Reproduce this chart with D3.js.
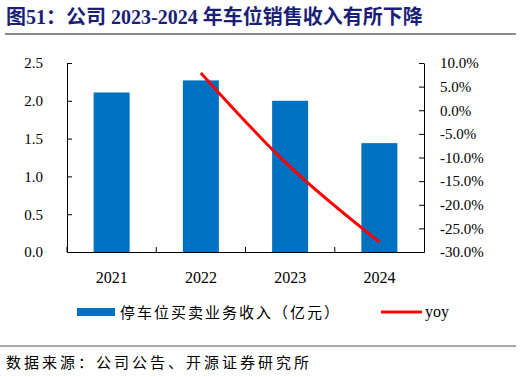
<!DOCTYPE html>
<html>
<head>
<meta charset="utf-8">
<script src="https://cdn.jsdelivr.net/npm/d3@7"></script>
<style>
  body { margin: 0; background: #fff; }
  svg text { font-family: "Liberation Serif", "Noto Sans CJK SC", serif; }
</style>
</head>
<body>
<div id="Canvas"></div>
<script>
// 数据
let years = ["2021", "2022", "2023", "2024"]
let revenue = [2.11, 2.27, 2.00, 1.44]      // 停车位买卖业务收入（亿元）
let yoy = [null, 7.9, -12.0, -27.9]         // %
let leftTicks = [0, 0.5, 1.0, 1.5, 2.0, 2.5]
let rightTicks = [10, 5, 0, -5, -10, -15, -20, -25, -30]

let svg = d3.select("#Canvas")
    .append("svg")
    .attr("width", 522)
    .attr("height", 377)

// 标题
svg.append("text")
    .attr("x", 6)
    .attr("y", 24)
    .attr("fill", "#1b1f78")
    .attr("font-size", 20)
    .attr("font-weight", "bold")
    .style("font-family", "'Liberation Serif', 'Noto Sans CJK SC', serif")
    .text("图51：公司 2023-2024 年车位销售收入有所下降")
svg.append("line")
    .attr("x1", 5).attr("x2", 516)
    .attr("y1", 34).attr("y2", 34)
    .attr("stroke", "#8c8c8c")
    .attr("stroke-width", 2)

// 比例尺
let xBand = d3.scaleBand().domain(years).range([67, 424])
let yScale = d3.scaleLinear()
    .domain([0, 2.5])
    .range([252, 63])
let yoyScale = d3.scaleLinear()
    .domain([-30, 10])
    .range([252, 63])

// 柱
svg.selectAll("rect.bar")
    .data(years)
    .enter()
    .append("rect")
    .attr("class", "bar")
    .attr("x", (d) => xBand(d) + xBand.bandwidth() / 2 - 18)
    .attr("y", (d, i) => yScale(revenue[i]))
    .attr("width", 36)
    .attr("height", (d, i) => yScale(0) - yScale(revenue[i]))
    .attr("fill", "#0070c0")

// 折线
let lineData = years.map((d, i) => ({ year: d, v: yoy[i] })).filter(d => d.v !== null)
let line = d3.line()
    .x(d => xBand(d.year) + xBand.bandwidth() / 2)
    .y(d => yoyScale(d.v))
    .curve(d3.curveCatmullRom.alpha(0.5))
svg.append("path")
    .datum(lineData)
    .attr("d", line)
    .attr("fill", "none")
    .attr("stroke", "#ff0000")
    .attr("stroke-width", 3)

// 坐标轴
let yAxis = d3.axisLeft(yScale)
    .tickValues(leftTicks)
    .tickFormat(d3.format(".1f"))
    .tickSizeInner(-5)
    .tickSizeOuter(0)
    .tickPadding(24)
let gy = svg.append("g")
    .attr("transform", "translate(67,0)")
    .call(yAxis)

let yAxis2 = d3.axisRight(yoyScale)
    .tickValues(rightTicks)
    .tickFormat(d => d.toFixed(1) + "%")
    .tickSizeInner(-5)
    .tickSizeOuter(0)
    .tickPadding(16)
let gy2 = svg.append("g")
    .attr("transform", "translate(424,0)")
    .call(yAxis2)

let xAxis = d3.axisBottom(xBand)
    .tickSize(0)
    .tickPadding(20)
let gx = svg.append("g")
    .attr("transform", "translate(0,252)")
    .call(xAxis)
// x轴分隔刻度
svg.selectAll("line.sep")
    .data(years)
    .enter()
    .append("line")
    .attr("class", "sep")
    .attr("x1", d => xBand(d)).attr("x2", d => xBand(d))
    .attr("y1", 252).attr("y2", 247)
    .attr("stroke", "#000")

;[gy, gy2, gx].forEach(g => {
    g.select(".domain").attr("stroke", "#000")
    g.selectAll(".tick line").attr("stroke", "#000")
    g.selectAll("text")
        .attr("font-size", 15)
        .attr("fill", "#000")
        .style("font-family", "'Liberation Serif', serif")
})
gx.selectAll("text").attr("font-size", 16)

// 图例
svg.append("rect")
    .attr("x", 77).attr("y", 308)
    .attr("width", 38).attr("height", 8)
    .attr("fill", "#0070c0")
svg.append("text")
    .attr("x", 120).attr("y", 318)
    .attr("font-size", 15)
    .attr("letter-spacing", 2)
    .style("font-family", "'Noto Sans CJK SC', sans-serif")
    .text("停车位买卖业务收入（亿元）")
svg.append("line")
    .attr("x1", 381).attr("x2", 422)
    .attr("y1", 312).attr("y2", 312)
    .attr("stroke", "#ff0000")
    .attr("stroke-width", 3)
svg.append("text")
    .attr("x", 425).attr("y", 317)
    .attr("font-size", 16)
    .text("yoy")

// 来源
svg.append("line")
    .attr("x1", 0).attr("x2", 516)
    .attr("y1", 346).attr("y2", 346)
    .attr("stroke", "#8c8c8c")
    .attr("stroke-width", 1.5)
svg.append("text")
    .attr("x", 6).attr("y", 368)
    .attr("font-size", 15)
    .attr("letter-spacing", 3)
    .style("font-family", "'Noto Sans CJK SC', sans-serif")
    .text("数据来源：公司公告、开源证券研究所")
</script>
</body>
</html>
